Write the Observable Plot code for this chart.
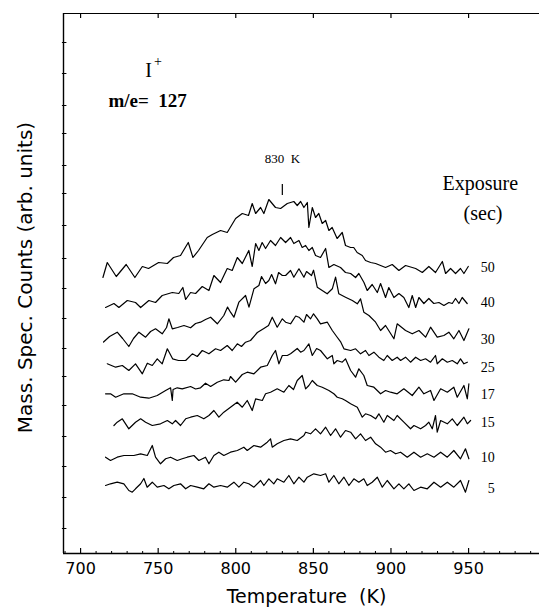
<!DOCTYPE html>
<html><head><meta charset="utf-8">
<script src="https://cdn.jsdelivr.net/npm/d3@7"></script>
<script src="https://cdn.jsdelivr.net/npm/@observablehq/plot@0.6"></script>
<style>
html,body{margin:0;padding:0;background:#fff;}
</style>
</head><body><div id="chart"></div>
<script>
// ---- DATA: [temperature (K), counts (arb. units)] ----
const trace50 = [[714.4,276],[717.2,291],[723.0,277],[729.4,289],[735.0,276],[739.8,287],[743.8,285],[750.3,291],[755.9,290],[759.9,296],[764.4,298],[769.4,311],[772.4,296],[776.0,303],[781.6,316],[784.9,319],[790.2,323],[794.5,321],[799.9,335],[804.2,340],[808.2,338],[810.6,350],[812.8,340],[816.0,346],[818.1,340],[821.3,354],[825.6,346],[828.9,345],[833.2,350],[837.4,352],[839.6,348],[841.8,352],[843.9,346],[846.1,351],[847.1,326],[849.3,346],[851.4,336],[853.5,340],[855.7,330],[857.9,333],[860.0,323],[862.1,326],[865.3,315],[868.6,321],[870.7,308],[874.0,306],[876.0,306],[878.2,301],[881.5,298],[883.6,293],[886.9,291],[890.1,290],[896.5,286],[900.8,289],[905.1,283],[909.4,288],[915.9,285],[920.2,281],[924.4,287],[928.7,281],[933.1,292],[935.2,280],[938.4,285],[941.6,280],[944.8,285],[947.0,280],[949.8,287]];
const trace40 = [[716.1,246],[721.5,250],[724.7,246],[730.1,253],[735.4,251],[738.7,246],[744.0,253],[748.3,251],[752.6,258],[759.1,261],[763.3,260],[765.9,266],[767.7,254],[770.9,261],[774.1,260],[778.4,267],[782.7,263],[785.9,278],[790.2,271],[794.5,285],[797.7,283],[801.0,296],[804.2,290],[808.4,303],[810.6,287],[812.8,310],[814.9,303],[817.0,311],[819.2,305],[822.4,313],[825.6,308],[828.9,316],[832.1,311],[835.3,316],[837.4,310],[840.7,313],[842.8,306],[845.0,308],[847.1,303],[849.3,306],[851.4,298],[854.6,296],[857.9,305],[860.0,286],[863.2,289],[867.5,286],[870.7,281],[874.0,280],[877.2,276],[879.3,280],[882.6,271],[884.7,263],[887.9,269],[891.2,261],[893.3,270],[896.5,256],[898.6,266],[901.9,256],[905.1,260],[908.3,256],[911.5,246],[913.7,258],[915.9,246],[918.0,256],[921.2,250],[924.4,255],[927.6,250],[930.9,251],[934.1,248],[937.3,251],[939.5,250],[941.6,255],[943.8,250],[945.9,256],[949.1,250]];
const trace30 = [[714.8,211.5],[718.7,217],[723.6,221.3],[727.1,215],[731.1,207],[734.1,215],[737.6,221.3],[741.9,216.3],[745.1,222],[748.3,224.7],[752.6,219.7],[755.4,226],[756.9,234.7],[759.1,224.7],[762.5,226],[766.6,228],[770.9,225.7],[774.1,230],[777.3,231.3],[780.5,234],[783.8,236.3],[788.1,229.7],[792.3,238],[794.7,246.4],[796.6,241.3],[798.8,236.3],[802.0,251.3],[806.3,258],[808.5,246.3],[811.7,264.7],[814.9,268],[816.6,277],[819.2,270],[821.3,273],[823.1,279],[825.6,269.7],[827.6,281],[830.0,278],[832.1,278],[835.3,283],[837.4,276.3],[840.7,284.7],[843.9,276.3],[845.6,282],[848.8,278],[850.1,283.3],[852.5,266.3],[855.7,263],[858.9,259.7],[862.2,264.7],[864.3,276.3],[866.4,259.7],[870.7,256.3],[875.1,253],[878.3,249.7],[880.4,254.7],[882.5,241.3],[885.8,238],[890.1,231.3],[893.3,223],[896.5,228],[901.9,214.7],[904.0,229.7],[909.4,223],[913.7,219.7],[918.0,223],[922.3,216.3],[925.5,226.3],[929.8,216.3],[934.1,218],[937.3,221.3],[940.5,214.7],[943.8,223],[947.0,213],[950.2,224.7]];
const trace25 = [[717.2,189.7],[722.6,186.3],[726.9,188],[731.1,183],[735.4,189.7],[739.8,179.7],[743.0,190.3],[746.2,188],[749.4,194.7],[752.6,189.7],[755.9,204.7],[759.3,194.7],[763.1,193],[767.7,193],[772.0,199.7],[775.2,197],[778.4,203],[782.7,199.7],[787.0,204.7],[790.2,203],[794.5,208],[797.7,203],[801.0,209.7],[803.7,207],[806.3,211.3],[809.5,213],[813.9,221],[818.1,225],[821.1,228],[823.5,236.3],[826.7,226.3],[830.0,234.7],[832.1,231.3],[835.3,229.7],[838.6,237.5],[840.7,236.3],[843.9,231.3],[845.6,239],[848.2,234.7],[850.1,239.7],[852.5,234.7],[854.6,229.7],[859.0,231.3],[862.2,223],[865.0,217],[867.7,211.3],[869.7,204.7],[874.0,203],[877.2,204.7],[880.4,199.7],[883.6,203],[885.8,198],[889.0,201.3],[892.2,196.3],[895.4,193],[897.6,198],[900.8,193],[904.0,196.3],[906.2,193],[909.4,196.3],[912.6,191.3],[915.9,196.3],[919.1,193],[922.3,194.7],[925.5,191.3],[928.7,198],[929.8,189.7],[933.1,194.7],[936.3,191.3],[939.5,193],[942.7,189.7],[944.8,194.7],[947.0,189.7],[949.2,191.3]];
const trace17 = [[716.1,159.7],[719.3,159.7],[722.6,156.3],[727.9,159.7],[733.3,159.7],[738.7,156.3],[744.0,155.3],[749.4,158],[754.8,163],[758.0,165.7],[759.1,153],[759.6,164],[762.3,165.7],[765.5,164.7],[770.9,167],[774.1,164.5],[777.3,165.7],[780.5,170.3],[783.8,167],[788.1,171.3],[792.3,173.7],[795.6,173],[796.6,177],[799.9,171.3],[804.2,179],[807.4,181.3],[811.7,179.7],[816.0,186.3],[820.3,188],[823.5,198],[825.6,203],[827.8,189.7],[830.0,198],[833.2,198],[835.3,199.7],[839.6,205],[841.8,201.3],[843.9,203],[847.1,209.7],[849.3,198],[852.1,205],[854.6,203],[859.0,194.7],[862.2,198],[863.2,189.7],[865.4,193],[868.6,191.3],[870.7,194.7],[874.0,183],[877.2,176.3],[879.3,184.7],[882.5,178],[884.7,168],[889.0,166.3],[893.3,159.7],[896.5,163],[899.7,161.3],[904.0,159.7],[908.3,164.7],[913.7,158],[918.0,166.3],[921.2,159.7],[925.5,163],[927.7,153],[932.0,164.7],[936.3,161.3],[940.5,166.3],[942.7,156.3],[947.0,168],[949.2,154.7],[950.2,169.7]];
const trace15 = [[721.5,128],[723.6,131.3],[726.9,134.7],[731.1,124.7],[735.4,131.3],[738.7,134.7],[741.9,131.3],[746.2,128],[751.5,129.7],[755.9,133],[759.1,129.7],[761.2,133],[764.4,128],[767.7,134.7],[770.9,136.3],[775.2,138],[779.4,134.7],[782.7,138],[785.9,143],[789.1,136.3],[792.3,141.3],[796.6,146.3],[800.9,151.3],[804.2,146.3],[807.4,153],[810.6,143],[812.8,154.7],[817.1,153],[819.2,159.7],[822.4,161.3],[826.7,164.7],[831.0,161.3],[834.2,168],[837.2,164],[839.6,173],[842.8,178],[845.0,164.7],[847.1,168],[849.3,173],[852.5,168],[855.7,166.3],[860.0,163],[863.2,159.7],[865.4,156.3],[868.6,154.7],[870.7,153],[874.0,149.7],[878.3,146.3],[881.5,136.3],[883.6,139.7],[886.9,138],[890.1,134.7],[892.2,139.7],[895.4,131.3],[897.6,138],[901.9,133],[904.0,138],[908.3,131.3],[912.6,124.7],[914.8,128],[919.1,124.7],[922.3,128],[924.4,131.3],[926.6,124.7],[928.7,138],[929.8,121.3],[932.0,133],[936.3,129.7],[939.5,134.7],[942.7,128],[947.0,136.3],[949.2,129.7],[951.3,133]];
const trace10 = [[716.1,96.3],[719.3,93],[723.6,96.3],[727.9,98],[734.3,98],[738.7,99.7],[743.0,98],[746.2,108],[748.3,96.3],[751.5,89.7],[754.8,94.7],[758.0,96.3],[762.3,93],[765.5,94.7],[768.7,96.3],[773.0,98],[776.2,93],[780.5,96.3],[782.7,89.7],[785.9,98],[789.1,101.3],[792.3,98],[796.6,101.3],[801.0,103],[805.2,106.3],[807.4,103],[811.7,108],[816.0,106.3],[820.3,111.3],[822.4,114.7],[823.5,106.3],[826.7,109.7],[831.0,113],[835.3,114.7],[839.6,113],[843.9,118],[845.0,121.3],[848.2,119.7],[851.4,124.7],[854.6,119.7],[857.9,126.3],[861.1,118],[864.3,124.7],[867.5,116.3],[870.7,123],[874.0,121.3],[877.2,114.7],[880.4,119.7],[883.6,113],[886.9,116.3],[890.1,109.7],[893.3,106.3],[896.5,101.3],[899.7,103],[903.0,99.7],[906.2,101.3],[910.5,96.3],[914.8,101.3],[919.1,96.3],[923.4,99.7],[927.7,96.3],[932.0,101.3],[936.3,96.3],[940.5,103],[944.8,94.7],[948.0,104.7],[950.2,94.7]];
const trace5 = [[716.1,68],[719.3,69.7],[723.6,71.3],[727.9,69.7],[731.1,63],[733.3,61.3],[735.4,64.7],[738.7,69.7],[740.8,75],[742.9,66.3],[746.2,71.3],[749.4,66.3],[753.7,68],[756.9,64.7],[760.1,68],[764.4,69.7],[767.7,64.7],[770.9,68],[775.2,66.3],[779.4,64.7],[782.7,69.7],[785.9,66.3],[790.2,68],[794.5,66.3],[798.8,71.3],[802.0,66.3],[805.2,71.3],[808.4,69.7],[811.7,66.3],[816.0,73],[818.1,68],[821.3,74.7],[824.5,69.7],[826.7,74.7],[831.0,71.3],[834.2,78],[837.4,69.7],[840.7,76.3],[843.9,71.3],[846.1,76.3],[850.3,79.7],[854.6,78],[857.9,79.7],[860.0,71.3],[863.2,78],[866.4,69.7],[869.7,76.3],[872.9,68],[876.1,74.7],[879.3,71.3],[882.5,74.7],[884.7,68],[887.9,71.3],[891.2,76.3],[894.4,66.3],[897.6,73],[901.9,64.7],[905.1,69.7],[908.3,64.7],[911.5,69.7],[914.8,63],[919.1,66.3],[923.4,64.7],[927.7,71.3],[932.0,66.3],[936.3,71.3],[940.5,66.3],[944.8,73],[948.0,61.3],[950.2,73]];

const exposures = ["50","40","30","25","17","15","10","5"];
const traces = [trace50, trace40, trace30, trace25, trace17, trace15, trace10, trace5];
const xTicks = [700, 750, 800, 850, 900, 950];
const xMinorTicks = [690,710,720,730,740,760,770,780,790,810,820,830,840,860,870,880,890,910,920,930,940,960,970,980,990];
const yTicks = [511,480,448,420,388,360,328,295,265,235,205,177,148,117,87,56,25];
const peakLabel = "830  K";
const peakT = 830;

// ---- build table ----
const data = exposures.flatMap((e, i) => traces[i].map(([T, c]) => ({exposure: e, T, c})));
const labelY = [286, 251, 214, 186, 159, 131, 96, 65]; // label placement (counts units)

const serif = "Liberation Serif, DejaVu Serif, serif";
const sans = "DejaVu Sans, sans-serif";

const chart = Plot.plot({
  width: 539, height: 610,
  marginLeft: 63, marginRight: 0, marginTop: 13, marginBottom: 57,
  x: {domain: [689, 995.7], axis: null},
  y: {domain: [0, 540], axis: null},
  style: {background: "#fff", color: "#000", overflow: "visible"},
  marks: [
    // frame
    Plot.ruleX([689], {y1: 0, y2: 540, stroke: "#000", strokeWidth: 1.4}),
    Plot.ruleY([0], {x1: 689, x2: 995.7, stroke: "#000", strokeWidth: 1.4}),
    Plot.ruleY([540], {x1: 689, x2: 995.7, stroke: "#000", strokeWidth: 1.2}),
    // ticks
    Plot.ruleX(xTicks, {y1: 0, y2: 5, stroke: "#000", strokeWidth: 1.2}),
    Plot.ruleX(xMinorTicks, {y1: 0, y2: 2, stroke: "#000", strokeWidth: 1}),
    Plot.ruleX(xTicks, {y1: 540, y2: 535, stroke: "#000", strokeWidth: 1.2}),
    Plot.ruleY(yTicks, {x1: 688.3, x2: 691.2, stroke: "#000", strokeWidth: 1}),
    // traces
    Plot.line(data, {x: "T", y: "c", z: "exposure", stroke: "#000", strokeWidth: 1.2, strokeLinejoin: "round"}),
    // tick labels
    Plot.text(xTicks, {x: d => d, frameAnchor: "bottom", dy: 20, fontSize: 16, fontFamily: sans, letterSpacing: 0.6, fill: "#000"}),
    Plot.text(["Temperature  (K)"], {frameAnchor: "bottom", dx: 5, dy: 49, fontSize: 19, fontFamily: sans, letterSpacing: 1.1, fill: "#000"}),
    Plot.text(["Mass. Spec. Counts (arb. units)"], {x: 664.6, y: 276, rotate: -90, fontSize: 20, fontFamily: sans, letterSpacing: 0.6, fill: "#000"}),
    // annotations
    Plot.text(["I"], {x: 743.8, y: 483, fontSize: 20, fontFamily: serif, fill: "#000"}),
    Plot.text(["+"], {x: 749.8, y: 492, fontSize: 14, fontFamily: serif, fill: "#000"}),
    Plot.text(["m/e=  127"], {x: 718, y: 453, textAnchor: "start", fontSize: 19, fontFamily: serif, fontWeight: 600, letterSpacing: 1.8, fill: "#000"}),
    Plot.text([peakLabel], {x: peakT, y: 395, fontSize: 13, fontFamily: serif, letterSpacing: 1.5, fill: "#000"}),
    Plot.ruleX([peakT], {y1: 358, y2: 369, stroke: "#000", strokeWidth: 1.2}),
    Plot.text(["Exposure"], {x: 933.2, y: 370, textAnchor: "start", fontSize: 20, fontFamily: serif, letterSpacing: 2.5, fill: "#000"}),
    Plot.text(["(sec)"], {x: 946.8, y: 340, textAnchor: "start", fontSize: 20, fontFamily: serif, letterSpacing: 2, fill: "#000"}),
    Plot.text(exposures, {x: 966.8, y: (d, i) => labelY[i], textAnchor: "end", fontSize: 14, fontFamily: serif, letterSpacing: 1.5, fill: "#000"})
  ]
});
document.getElementById("chart").appendChild(chart);
</script>
</body></html>
